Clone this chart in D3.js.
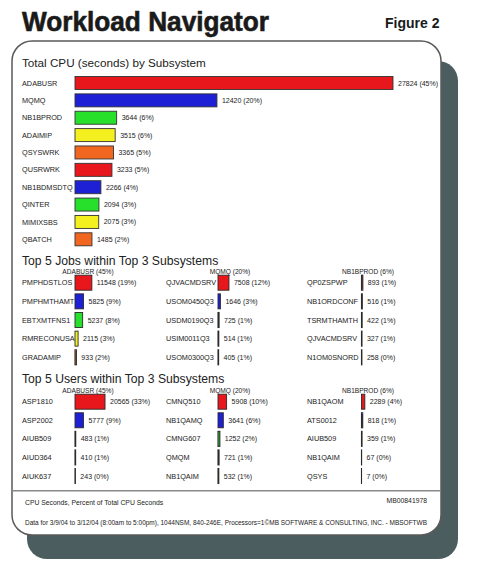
<!DOCTYPE html>
<html>
<head>
<meta charset="utf-8">
<script src="https://cdn.jsdelivr.net/npm/d3@7"></script>
<style>
  html, body { margin: 0; padding: 0; background: #ffffff; }
  svg { display: block; font-family: "Liberation Sans", Arial, sans-serif; }
</style>
</head>
<body>
<svg id="chart" width="482" height="572"></svg>
<script>
// ---------- DATA ----------
const subsystems = ["ADABUSR","MQMQ","NB1BPROD","ADAIMIP","QSYSWRK","QUSRWRK","NB1BDMSDTQ","QINTER","MIMIXSBS","QBATCH"];
const subsystemCpu = [27824,12420,3644,3515,3365,3233,2266,2094,2075,1485];
const subsystemPct = [45,20,6,6,5,5,4,3,3,2];

const topSubsystemHeaders = ["ADABUSR (45%)","MQMQ (20%)","NB1BPROD (6%)"];

const jobsAdabusr = ["PMPHDSTLOS","PMPHMTHAMT","EBTXMTFNS1","RMRECONUSA","GRADAMIP"];
const jobsAdabusrCpu = [11548,5825,5237,2115,933];
const jobsAdabusrPct = [19,9,8,3,2];
const jobsMqmq = ["QJVACMDSRV","USOM0450Q3","USDM0190Q3","USIM0011Q3","USOM0300Q3"];
const jobsMqmqCpu = [7508,1646,725,514,405];
const jobsMqmqPct = [12,3,1,1,1];
const jobsNb1bprod = ["QP0ZSPWP","NB1ORDCONF","TSRMTHAMTH","QJVACMDSRV","N1OM0SNORD"];
const jobsNb1bprodCpu = [893,516,422,327,258];
const jobsNb1bprodPct = [1,1,1,1,0];

const usersAdabusr = ["ASP1810","ASP2002","AIUB509","AIUD364","AIUK637"];
const usersAdabusrCpu = [20565,5777,483,410,243];
const usersAdabusrPct = [33,9,1,1,0];
const usersMqmq = ["CMNQ510","NB1QAMQ","CMNG607","QMQM","NB1QAIM"];
const usersMqmqCpu = [5908,3641,1252,721,532];
const usersMqmqPct = [10,6,2,1,1];
const usersNb1bprod = ["NB1QAOM","ATS0012","AIUB509","NB1QAIM","QSYS"];
const usersNb1bprodCpu = [2289,818,359,67,7];
const usersNb1bprodPct = [4,1,1,0,0];

const barColors = ["#e8171b","#1d20d4","#27e02b","#f4f020","#f2671f"];

// ---------- DRAW ----------
const svg = d3.select("#chart");
const ink = "#222";

// Title
svg.append("text").attr("x", 22).attr("y", 31)
  .attr("font-size", 27).attr("font-weight", "bold").attr("fill", "#1a1a1a")
  .attr("stroke", "#1a1a1a").attr("stroke-width", 0.6)
  .attr("textLength", 247).attr("lengthAdjust", "spacingAndGlyphs")
  .text("Workload Navigator");
svg.append("text").attr("x", 385).attr("y", 28)
  .attr("font-size", 14).attr("font-weight", "bold").attr("fill", "#1a1a1a")
  .text("Figure 2");

// Shadow and panel
svg.append("rect").attr("x", 27).attr("y", 61).attr("width", 431).attr("height", 498)
  .attr("rx", 20).attr("fill", "#4b5d5f");
svg.append("rect").attr("x", 12).attr("y", 41).attr("width", 429).attr("height", 494)
  .attr("rx", 20).attr("fill", "#ffffff").attr("stroke", "#5a5a5a").attr("stroke-width", 1.5);

// Section title 1
svg.append("text").attr("x", 22).attr("y", 67).attr("font-size", 11.7).attr("fill", ink)
  .text("Total CPU (seconds) by Subsystem");

// Top chart
const xTop = d3.scaleLinear().domain([0, 28000]).range([75, 395]);
const yTop = d3.scalePoint().domain(subsystems).range([83, 239.3]);
const topBarH = 13;
const gTop = svg.append("g");
subsystems.forEach((s, i) => {
  const yc = yTop(s);
  gTop.append("text").attr("x", 22).attr("y", yc + 2.6).attr("font-size", 7.3).attr("fill", ink).text(s);
  gTop.append("rect").attr("x", xTop(0)).attr("y", yc - topBarH / 2)
    .attr("width", xTop(subsystemCpu[i]) - xTop(0)).attr("height", topBarH)
    .attr("fill", barColors[i % 5]).attr("stroke", "#333").attr("stroke-width", 0.9);
  gTop.append("text").attr("x", xTop(subsystemCpu[i]) + 5).attr("y", yc + 2.5)
    .attr("font-size", 7).attr("fill", ink)
    .text(subsystemCpu[i] + " (" + subsystemPct[i] + "%)");
});

// Small panels
const xSmall = d3.scaleLinear().domain([0, 62000]).range([0, 90.5]);
const labelX = [22, 166, 307];
const barX = [75, 218, 361.5];
const headerX = [88, 230, 368];

function drawPanel(names, vals, pcts, col, rowRange, headerY) {
  const g = svg.append("g");
  const y = d3.scalePoint().domain(d3.range(names.length)).range(rowRange);
  g.append("text").attr("x", headerX[col]).attr("y", headerY).attr("text-anchor", "middle")
    .attr("font-size", 6.6).attr("fill", ink).text(topSubsystemHeaders[col]);
  names.forEach((n, i) => {
    const yc = y(i);
    const w = xSmall(vals[i]);
    g.append("text").attr("x", labelX[col]).attr("y", yc + 2.6).attr("font-size", 7.3).attr("fill", ink).text(n);
    g.append("rect").attr("x", barX[col]).attr("y", yc - 7.5)
      .attr("width", Math.max(w, 0.01)).attr("height", 15)
      .attr("fill", barColors[i % 5]).attr("stroke", "#2a2a2a").attr("stroke-width", w < 2 ? 1.1 : 0.9);
    g.append("text").attr("x", barX[col] + w + 5).attr("y", yc + 2.5).attr("font-size", 7).attr("fill", ink)
      .text(vals[i] + " (" + pcts[i] + "%)");
  });
}

svg.append("text").attr("x", 22).attr("y", 264.5).attr("font-size", 12.2).attr("fill", ink)
  .text("Top 5 Jobs within Top 3 Subsystems");
const jobRows = [282.7, 357.3];
drawPanel(jobsAdabusr, jobsAdabusrCpu, jobsAdabusrPct, 0, jobRows, 273.5);
drawPanel(jobsMqmq, jobsMqmqCpu, jobsMqmqPct, 1, jobRows, 273.5);
drawPanel(jobsNb1bprod, jobsNb1bprodCpu, jobsNb1bprodPct, 2, jobRows, 273.5);

svg.append("text").attr("x", 22).attr("y", 383).attr("font-size", 12.2).attr("fill", ink)
  .text("Top 5 Users within Top 3 Subsystems");
const userRows = [401.7, 476];
drawPanel(usersAdabusr, usersAdabusrCpu, usersAdabusrPct, 0, userRows, 392.5);
drawPanel(usersMqmq, usersMqmqCpu, usersMqmqPct, 1, userRows, 392.5);
drawPanel(usersNb1bprod, usersNb1bprodCpu, usersNb1bprodPct, 2, userRows, 392.5);

// Footer
svg.append("line").attr("x1", 12.75).attr("x2", 440.25).attr("y1", 490.7).attr("y2", 490.7)
  .attr("stroke", "#8a8a8a").attr("stroke-width", 1.6);
svg.append("text").attr("x", 25).attr("y", 504.5).attr("font-size", 6.8).attr("fill", ink)
  .text("CPU Seconds, Percent of Total CPU Seconds");
svg.append("text").attr("x", 427).attr("y", 503).attr("text-anchor", "end").attr("font-size", 6.8).attr("fill", ink)
  .text("MB00841978");
svg.append("text").attr("x", 25).attr("y", 525).attr("font-size", 6.8).attr("fill", ink)
  .attr("textLength", 402).attr("lengthAdjust", "spacingAndGlyphs")
  .text("Data for 3/9/04 to 3/12/04 (8:00am to 5:00pm), 1044NSM, 840-246E, Processors=1©MB SOFTWARE & CONSULTING, INC. - MBSOFTWB");
</script>
</body>
</html>
